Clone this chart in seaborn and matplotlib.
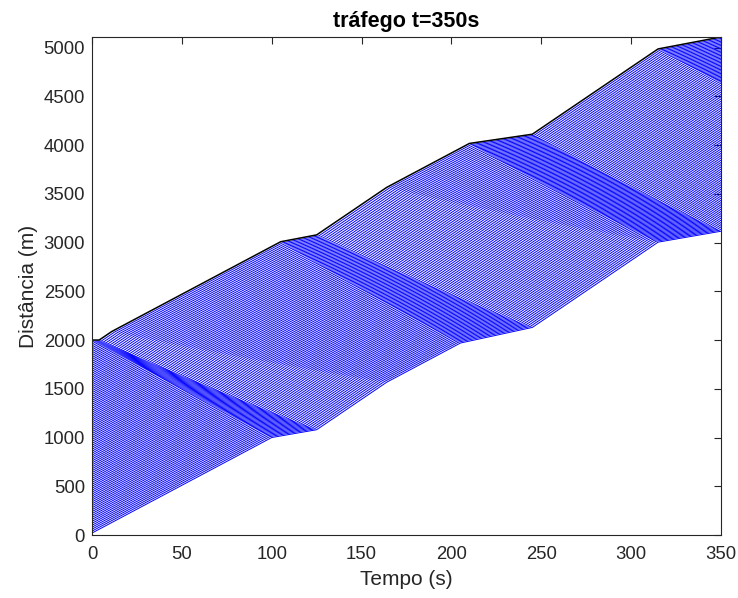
import numpy as np
import pandas as pd
import matplotlib
matplotlib.use("Agg")
import matplotlib.pyplot as plt
import seaborn as sns

# ---- data ----
n_vehicles = 100
x0_leader = 2000.0          # initial position of leader (m)
x0_last = 20.0              # initial position of last vehicle (m)
t_end = 350.0
v_free = 9.8                # free-flow speed (m/s)
v_discharge = 12.5          # speed leaving a jam (m/s)

# stop-and-go waves: times seen at the leader (top) and at the last vehicle (bottom)
wave_start_leader = [0, 105, 210, 315]
wave_start_last = [100, 205, 315, 420]
wave_end_leader = [4, 125, 245, 350]
wave_end_last = [125, 245, 350, 460]
recov_end_leader = [11, 164, 315, 420]
recov_end_last = [164, 315, 420, 520]
v_slow_leader = [0.0, 3.5, 2.7, 3.5]
v_slow_last = [3.2, 4.0, 3.2, 3.2]

x_ticks = [0, 50, 100, 150, 200, 250, 300, 350]
y_ticks = list(range(0, 5001, 500))


def trajectory(f):
    S = [a + f * (b - a) for a, b in zip(wave_start_leader, wave_start_last)]
    E = [a + f * (b - a) for a, b in zip(wave_end_leader, wave_end_last)]
    R = [a + f * (b - a) for a, b in zip(recov_end_leader, recov_end_last)]
    VS = [a + f * (b - a) for a, b in zip(v_slow_leader, v_slow_last)]
    R = [min(R[k], S[k + 1]) if k + 1 < len(S) else R[k] for k in range(len(R))]
    pts = sorted(set([0.0, t_end] + [p for p in S + E + R if 0 < p < t_end]))

    def speed(tm):
        v = v_free
        for k in range(len(S)):
            if S[k] <= tm < E[k]:
                v = VS[k]
            elif E[k] <= tm < R[k]:
                v = v_discharge
        return v

    tt = np.array(pts)
    xs = [x0_leader + f * (x0_last - x0_leader)]
    for a, b in zip(tt[:-1], tt[1:]):
        xs.append(xs[-1] + speed(0.5 * (a + b)) * (b - a))
    return tt, np.array(xs)


rows = []
for i in range(n_vehicles):
    f = i / (n_vehicles - 1)
    tt, xx = trajectory(f)
    for a, b in zip(tt, xx):
        rows.append((i, a, b))
df = pd.DataFrame(rows, columns=["veh", "t", "x"])
leader = df[df.veh == 0]
followers = df[df.veh > 0]

sns.set_theme(style="white")
plt.rcParams["font.family"] = ["Liberation Sans", "DejaVu Sans"]

fig = plt.figure(figsize=(7.38, 5.98), dpi=100)
ax = fig.add_axes([92 / 738, 1 - 535 / 598, (721 - 92) / 738, (535 - 37) / 598])

sns.lineplot(data=followers, x="t", y="x", units="veh", estimator=None, sort=False,
             color="#0000ff", linewidth=0.7, ax=ax, legend=False)
sns.lineplot(data=leader, x="t", y="x", estimator=None, sort=False,
             color="black", linewidth=1.1, ax=ax, legend=False)

ax.set_xlim(0, t_end)
ax.set_ylim(0, leader.x.max())
ax.set_xticks(x_ticks)
ax.set_yticks(y_ticks)
ax.tick_params(direction="in", top=True, right=True, length=5, width=0.8,
               color="#262626", labelcolor="#262626", labelsize=13.3)
ax.tick_params(axis="x", pad=8)
ax.tick_params(axis="y", pad=5)
for s in ax.spines.values():
    s.set_color("#262626")
    s.set_linewidth(0.8)
ax.set_xlabel("Tempo (s)", fontsize=15, color="#262626", labelpad=5)
ax.set_ylabel("Distância (m)", fontsize=15, color="#262626", labelpad=4)
ax.set_title("tráfego t=350s", fontsize=15.5, fontweight="bold", color="black", pad=7)

fig.savefig("out.png", dpi=100)
